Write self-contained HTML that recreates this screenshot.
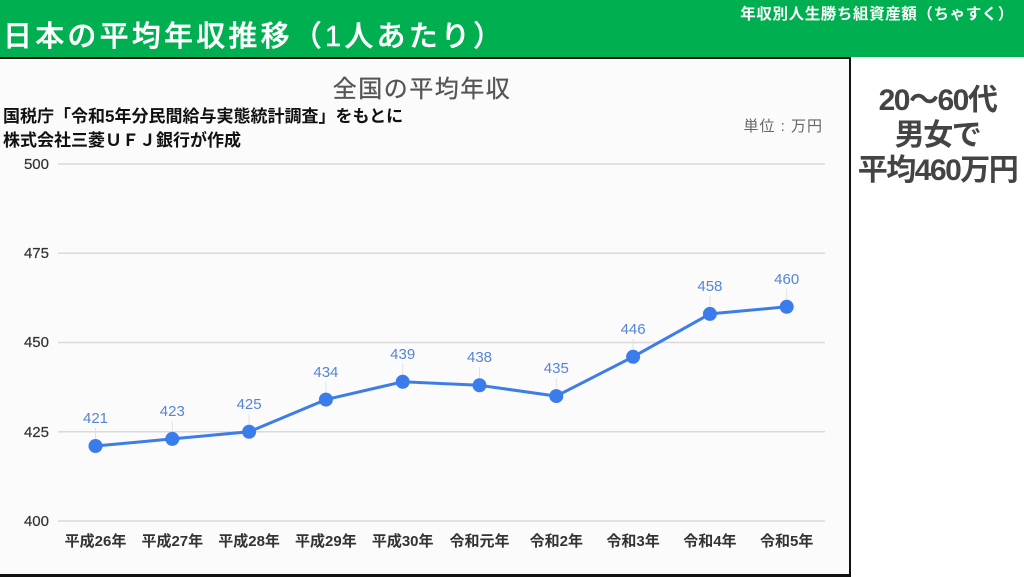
<!DOCTYPE html>
<html><head><meta charset="utf-8">
<style>
html,body{margin:0;padding:0;}
body{width:1024px;height:576px;position:relative;overflow:hidden;background:#fff;font-family:"Liberation Sans","Noto Sans CJK JP",sans-serif;}
.hdr{position:absolute;left:0;top:0;width:1024px;height:57px;background:#00b050;}
.sub{position:absolute;right:10px;top:2px;color:#fff;font-weight:bold;font-size:15.5px;font-family:"Liberation Sans","Noto Sans CJK JP",sans-serif;letter-spacing:0.6px;}
.ttl{position:absolute;left:3px;top:19px;color:#fff;font-size:29px;line-height:36px;letter-spacing:3.2px;font-family:"Liberation Sans","Noto Sans CJK JP",sans-serif;font-weight:500;-webkit-text-stroke:0.4px #fff;}
.panel{position:absolute;left:0;top:57px;width:849px;height:515px;background:#fbfbfb;border-top:2px solid #111;border-right:2px solid #111;border-bottom:3px solid #111;box-sizing:content-box;}
.right{position:absolute;left:851px;top:83px;width:173px;text-align:center;color:#444;font-weight:bold;font-size:30px;line-height:35px;letter-spacing:-1.5px;font-family:"Liberation Sans","Noto Sans CJK JP",sans-serif;}
svg{position:absolute;left:0;top:0;}
</style></head>
<body>
<div class="hdr"></div>
<div class="sub">年収別人生勝ち組資産額（ちゃすく）</div>
<div class="ttl">日本の平均年収推移（1人あたり）</div>
<div class="panel"></div>
<div class="right">20〜60代<br>男女で<br>平均460万円</div>
<svg width="1024" height="576" viewBox="0 0 1024 576" xmlns="http://www.w3.org/2000/svg" font-family="Liberation Sans, Noto Sans CJK JP, sans-serif">
  <text x="422" y="97" text-anchor="middle" font-size="24" fill="#555" letter-spacing="1.5" stroke="#555" stroke-width="0.3" font-family="Liberation Sans, Noto Sans CJK JP, sans-serif">全国の平均年収</text>
  <text x="3" y="122" font-size="17" font-weight="bold" fill="#111" font-family="Liberation Sans, Noto Sans CJK JP, sans-serif">国税庁「令和5年分民間給与実態統計調査」をもとに</text>
  <text x="3" y="146" font-size="17" font-weight="bold" fill="#111" font-family="Liberation Sans, Noto Sans CJK JP, sans-serif">株式会社三菱ＵＦＪ銀行が作成</text>
  <text x="823" y="131" text-anchor="end" font-size="15" fill="#666" letter-spacing="1" font-family="Liberation Sans, Noto Sans CJK JP, sans-serif">単位 : 万円</text>
  <g stroke="#dadada" stroke-width="1.5">
    <line x1="58" y1="164" x2="825" y2="164"/>
    <line x1="58" y1="253.3" x2="825" y2="253.3"/>
    <line x1="58" y1="342.5" x2="825" y2="342.5"/>
    <line x1="58" y1="431.8" x2="825" y2="431.8"/>
    <line x1="58" y1="521" x2="825" y2="521"/>
  </g>
  <g font-size="15" fill="#333" text-anchor="end" stroke="#333" stroke-width="0.2">
    <text x="49" y="169">500</text>
    <text x="49" y="258">475</text>
    <text x="49" y="347">450</text>
    <text x="49" y="437">425</text>
    <text x="49" y="526">400</text>
  </g>
  <g font-size="15" fill="#333" text-anchor="middle" font-weight="bold" font-family="Liberation Sans, Noto Sans CJK JP, sans-serif">
    <text x="95.5" y="546">平成26年</text>
    <text x="172.3" y="546">平成27年</text>
    <text x="249.1" y="546">平成28年</text>
    <text x="325.9" y="546">平成29年</text>
    <text x="402.7" y="546">平成30年</text>
    <text x="479.5" y="546">令和元年</text>
    <text x="556.3" y="546">令和2年</text>
    <text x="633.1" y="546">令和3年</text>
    <text x="709.9" y="546">令和4年</text>
    <text x="786.7" y="546">令和5年</text>
  </g>
  <g stroke="#e2e2e2" stroke-width="1">
    <line x1="95.5" y1="428" x2="95.5" y2="446"/>
    <line x1="172.3" y1="421" x2="172.3" y2="439"/>
    <line x1="249.1" y1="414" x2="249.1" y2="432"/>
    <line x1="325.9" y1="382" x2="325.9" y2="400"/>
    <line x1="402.7" y1="364" x2="402.7" y2="382"/>
    <line x1="479.5" y1="367" x2="479.5" y2="385"/>
    <line x1="556.3" y1="378" x2="556.3" y2="396"/>
    <line x1="633.1" y1="339" x2="633.1" y2="357"/>
    <line x1="709.9" y1="296" x2="709.9" y2="314"/>
    <line x1="786.7" y1="289" x2="786.7" y2="307"/>
  </g>
  <polyline fill="none" stroke="#3d7de6" stroke-width="3" stroke-linejoin="round"
    points="95.5,446 172.3,438.9 249.1,431.8 325.9,399.6 402.7,381.8 479.5,385.3 556.3,396.1 633.1,356.8 709.9,313.9 786.7,306.8"/>
  <g fill="#3b7cec">
    <circle cx="95.5" cy="446" r="7"/>
    <circle cx="172.3" cy="438.9" r="7"/>
    <circle cx="249.1" cy="431.8" r="7"/>
    <circle cx="325.9" cy="399.6" r="7"/>
    <circle cx="402.7" cy="381.8" r="7"/>
    <circle cx="479.5" cy="385.3" r="7"/>
    <circle cx="556.3" cy="396.1" r="7"/>
    <circle cx="633.1" cy="356.8" r="7"/>
    <circle cx="709.9" cy="313.9" r="7"/>
    <circle cx="786.7" cy="306.8" r="7"/>
  </g>
  <g font-size="15" fill="#5585d4" text-anchor="middle">
    <text x="95.5" y="423">421</text>
    <text x="172.3" y="416">423</text>
    <text x="249.1" y="409">425</text>
    <text x="325.9" y="377">434</text>
    <text x="402.7" y="359">439</text>
    <text x="479.5" y="362">438</text>
    <text x="556.3" y="373">435</text>
    <text x="633.1" y="334">446</text>
    <text x="709.9" y="291">458</text>
    <text x="786.7" y="284">460</text>
  </g>
</svg>
</body></html>
